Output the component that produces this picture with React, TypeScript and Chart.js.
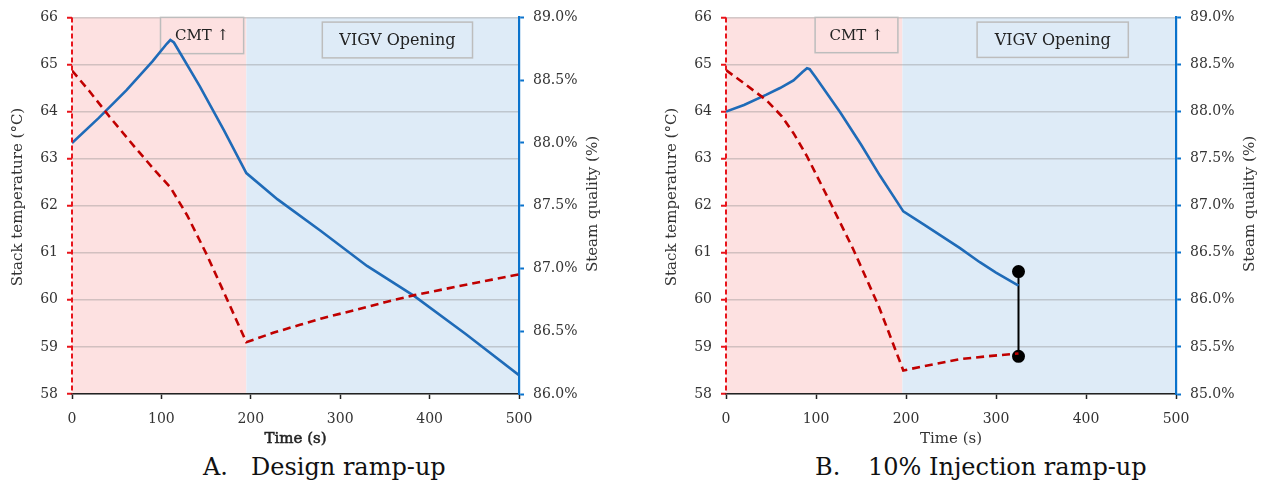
import React, { useEffect, useRef } from 'react';
import { Chart, registerables } from 'chart.js';

Chart.register(...registerables);

// ---------- Data ----------
const xTickValues = [0, 100, 200, 300, 400, 500];
const tempTickValues = [58, 59, 60, 61, 62, 63, 64, 65, 66];
const qualTickValuesA = [86.0, 86.5, 87.0, 87.5, 88.0, 88.5, 89.0];
const qualTickValuesB = [85.0, 85.5, 86.0, 86.5, 87.0, 87.5, 88.0, 88.5, 89.0];

// Panel A – Design ramp-up
const timeTempA = [0, 20, 42, 70, 95, 110, 129, 151, 173, 195, 225, 255, 278, 320, 350, 383, 430, 470, 500];
const tempA = [64.87, 64.42, 63.89, 63.25, 62.7, 62.39, 61.79, 60.95, 60.03, 59.1, 59.3, 59.47, 59.6, 59.8, 59.95, 60.1, 60.28, 60.43, 60.54];
const timeQualA = [0, 30, 61, 90, 106, 110, 114, 143, 170, 195, 230, 278, 330, 383, 440, 500];
const qualA = [88.0, 88.2, 88.42, 88.65, 88.79, 88.82, 88.8, 88.45, 88.1, 87.76, 87.55, 87.3, 87.02, 86.78, 86.48, 86.15];

// Panel B – 10% Injection ramp-up
const timeTempB = [0, 20, 45, 62, 75, 90, 115, 141, 170, 197, 230, 260, 295, 325];
const tempB = [64.88, 64.6, 64.24, 63.9, 63.54, 63.05, 62.1, 61.09, 59.85, 58.5, 58.63, 58.74, 58.81, 58.86];
const timeQualB = [0, 20, 45, 60, 75, 85, 90, 93, 100, 127, 150, 171, 197, 220, 260, 282, 300, 325];
const qualB = [88.0, 88.07, 88.18, 88.25, 88.33, 88.42, 88.46, 88.45, 88.36, 87.99, 87.65, 87.32, 86.94, 86.8, 86.55, 86.4, 86.29, 86.15];
const markerTimeB = [325, 325];
const markerTempB = [60.6, 58.8];

const bandSplitA = 195;
const bandSplitB = 196;

// ---------- Styles ----------
const FONT = '"DejaVu Serif", "Liberation Serif", serif';
const PINK = '#fde1e1';
const LIGHTBLUE = '#deebf7';
const RED_LINE = '#c00000';
const RED_AXIS = '#e8141b';
const BLUE_LINE = '#1f6bb8';
const BLUE_AXIS = '#0a72cc';
const TEXT = '#333333';
const GRID = 'rgba(140,140,140,0.38)';

type Box = { x0: number; x1: number; y0: number; y1: number; text: string; fill: string; size: number };

interface PanelCfg {
  width: number;
  height: number;
  leftW: number;
  rightW: number;
  timeTemp: number[];
  temp: number[];
  timeQual: number[];
  qual: number[];
  qualTicks: number[];
  split: number;
  boxes: Box[];
  markersT?: number[];
  markersV?: number[];
  timeBold: boolean;
}

const boxesA: Box[] = [
  { x0: 99, x1: 192, y0: 66, y1: 65.23, text: 'CMT \u2191', fill: PINK, size: 15 },
  { x0: 280, x1: 448, y0: 65.9, y1: 65.14, text: 'VIGV Opening', fill: LIGHTBLUE, size: 16 },
];
const boxesB: Box[] = [
  { x0: 99, x1: 191, y0: 66, y1: 65.25, text: 'CMT \u2191', fill: PINK, size: 15 },
  { x0: 279, x1: 447, y0: 65.9, y1: 65.15, text: 'VIGV Opening', fill: LIGHTBLUE, size: 16 },
];

function makeChart(canvas: HTMLCanvasElement, p: PanelCfg) {
  const decor = {
    id: 'decor',
    beforeDraw(chart: any) {
      const { ctx, chartArea: ca, scales } = chart;
      const xs = scales.x.getPixelForValue(p.split);
      ctx.save();
      ctx.fillStyle = PINK;
      ctx.fillRect(ca.left, ca.top, xs - ca.left, ca.bottom - ca.top);
      ctx.fillStyle = LIGHTBLUE;
      ctx.fillRect(xs, ca.top, ca.right - xs, ca.bottom - ca.top);
      ctx.restore();
    },
    beforeDatasetsDraw(chart: any) {
      const { ctx, scales } = chart;
      ctx.save();
      for (const b of p.boxes) {
        const x0 = scales.x.getPixelForValue(b.x0);
        const x1 = scales.x.getPixelForValue(b.x1);
        const y0 = scales.yL.getPixelForValue(b.y0);
        const y1 = scales.yL.getPixelForValue(b.y1);
        ctx.fillStyle = b.fill;
        ctx.fillRect(x0, y0, x1 - x0, y1 - y0);
        ctx.strokeStyle = '#bdbdbd';
        ctx.lineWidth = 1.5;
        ctx.strokeRect(x0, y0, x1 - x0, y1 - y0);
        ctx.fillStyle = '#222';
        ctx.font = `${b.size}px ${FONT}`;
        ctx.textAlign = 'center';
        ctx.textBaseline = 'middle';
        ctx.fillText(b.text, (x0 + x1) / 2, (y0 + y1) / 2 + 1);
      }
      ctx.restore();
    },
    afterDraw(chart: any) {
      const { ctx, chartArea: ca } = chart;
      ctx.save();
      // red dashed left axis line
      ctx.strokeStyle = RED_AXIS;
      ctx.lineWidth = 2;
      ctx.setLineDash([5, 3]);
      ctx.beginPath();
      ctx.moveTo(ca.left, ca.top);
      ctx.lineTo(ca.left, ca.bottom);
      ctx.stroke();
      ctx.setLineDash([]);

      ctx.fillStyle = TEXT;
      ctx.textAlign = 'center';
      ctx.textBaseline = 'middle';
      ctx.font = `15px ${FONT}`;
      // left title
      ctx.save();
      ctx.translate(ca.left - 54, 197);
      ctx.rotate(-Math.PI / 2);
      ctx.fillText('Stack temperature (\u00B0C)', 0, 0);
      ctx.restore();
      // right title
      ctx.save();
      ctx.translate(ca.right + 74, 204);
      ctx.rotate(-Math.PI / 2);
      ctx.fillText('Steam quality (%)', 0, 0);
      ctx.restore();
      // x title
      ctx.font = `15px ${FONT}`;
      const tx = (ca.left + ca.right) / 2;
      if (p.timeBold) {
        ctx.fillStyle = '#222';
        ctx.strokeStyle = '#222';
        ctx.lineWidth = 0.5;
        ctx.strokeText('Time (s)', tx, 439);
      }
      ctx.fillText('Time (s)', tx, 439);
      ctx.restore();
    },
  };

  const tickFont = { family: FONT, size: 14 };

  const datasets: any[] = [
    {
      label: 'Stack temperature',
      data: p.timeTemp.map((t, i) => ({ x: t, y: p.temp[i] })),
      yAxisID: 'yL',
      borderColor: RED_LINE,
      borderWidth: 2.6,
      borderDash: [8, 5],
      pointRadius: 0,
      tension: 0,
      fill: false,
    },
    {
      label: 'Steam quality',
      data: p.timeQual.map((t, i) => ({ x: t, y: p.qual[i] })),
      yAxisID: 'yR',
      borderColor: BLUE_LINE,
      borderWidth: 2.6,
      pointRadius: 0,
      tension: 0,
      fill: false,
    },
  ];
  if (p.markersT && p.markersV) {
    datasets.push({
      label: 'Range',
      data: p.markersT.map((t, i) => ({ x: t, y: p.markersV![i] })),
      yAxisID: 'yL',
      borderColor: '#000',
      borderWidth: 2,
      pointRadius: 5.5,
      pointBackgroundColor: '#000',
      pointBorderColor: '#000',
      tension: 0,
      fill: false,
    });
  }

  return new Chart(canvas, {
    type: 'line',
    data: { datasets },
    plugins: [decor],
    options: {
      animation: false,
      responsive: false,
      devicePixelRatio: 1,
      layout: { padding: { top: 13, left: 0, right: 0, bottom: 0 } },
      plugins: { legend: { display: false }, tooltip: { enabled: false }, title: { display: false } },
      scales: {
        x: {
          type: 'linear',
          min: 0,
          max: 500,
          afterBuildTicks: (s: any) => {
            s.ticks = xTickValues.map((v) => ({ value: v }));
          },
          afterFit: (s: any) => {
            s.height = p.height - 394;
          },
          ticks: { font: tickFont, color: TEXT, padding: 12, maxRotation: 0 },
          grid: { drawOnChartArea: false, drawTicks: true, tickLength: 5, tickColor: '#222', tickWidth: 1.5 },
          border: { display: true, color: '#222', width: 1.6 },
        },
        yL: {
          type: 'linear',
          position: 'left',
          min: 58,
          max: 66,
          afterBuildTicks: (s: any) => {
            s.ticks = tempTickValues.map((v) => ({ value: v }));
          },
          afterFit: (s: any) => {
            s.width = p.leftW;
          },
          ticks: { font: tickFont, color: TEXT, padding: 9 },
          grid: { color: GRID, lineWidth: 1.5, tickLength: 5, tickColor: RED_AXIS, tickWidth: 2 },
          border: { display: false },
        },
        yR: {
          type: 'linear',
          position: 'right',
          min: p.qualTicks[0],
          max: p.qualTicks[p.qualTicks.length - 1],
          afterBuildTicks: (s: any) => {
            s.ticks = p.qualTicks.map((v) => ({ value: v }));
          },
          afterFit: (s: any) => {
            s.width = p.rightW;
          },
          ticks: {
            font: tickFont,
            color: TEXT,
            padding: 9,
            callback: (v: any) => Number(v).toFixed(1) + '%',
          },
          grid: { drawOnChartArea: false, tickLength: 5, tickColor: BLUE_AXIS, tickWidth: 2 },
          border: { display: true, color: BLUE_AXIS, width: 2.2 },
        },
      },
    } as any,
  });
}

const panelA: PanelCfg = {
  width: 632,
  height: 450,
  leftW: 72,
  rightW: 632 - 519,
  timeTemp: timeTempA,
  temp: tempA,
  timeQual: timeQualA,
  qual: qualA,
  qualTicks: qualTickValuesA,
  split: bandSplitA,
  boxes: boxesA,
  timeBold: true,
};

const panelB: PanelCfg = {
  width: 625,
  height: 450,
  leftW: 86,
  rightW: 625 - 536,
  timeTemp: timeTempB,
  temp: tempB,
  timeQual: timeQualB,
  qual: qualB,
  qualTicks: qualTickValuesB,
  split: bandSplitB,
  boxes: boxesB,
  markersT: markerTimeB,
  markersV: markerTempB,
  timeBold: false,
};

function Panel({ cfg, left }: { cfg: PanelCfg; left: number }) {
  const ref = useRef<HTMLCanvasElement | null>(null);
  useEffect(() => {
    if (!ref.current) return;
    const c = makeChart(ref.current, cfg);
    return () => c.destroy();
  }, [cfg]);
  return (
    <canvas
      ref={ref}
      width={cfg.width}
      height={cfg.height}
      style={{ position: 'absolute', left, top: 0, width: cfg.width, height: cfg.height }}
    />
  );
}

const captionStyle: React.CSSProperties = {
  position: 'absolute',
  top: 453,
  fontFamily: FONT,
  fontSize: 24,
  lineHeight: '28px',
  color: '#111',
  whiteSpace: 'nowrap',
};

export default function App() {
  return (
    <div style={{ position: 'fixed', left: 0, top: 0, width: 1265, height: 503, background: '#fff', overflow: 'hidden' }}>
      <Panel cfg={panelA} left={0} />
      <Panel cfg={panelB} left={640} />
      <span style={{ ...captionStyle, left: 203 }}>A.</span>
      <span style={{ ...captionStyle, left: 251 }}>Design ramp-up</span>
      <span style={{ ...captionStyle, left: 815 }}>B.</span>
      <span style={{ ...captionStyle, left: 868 }}>10% Injection ramp-up</span>
    </div>
  );
}
